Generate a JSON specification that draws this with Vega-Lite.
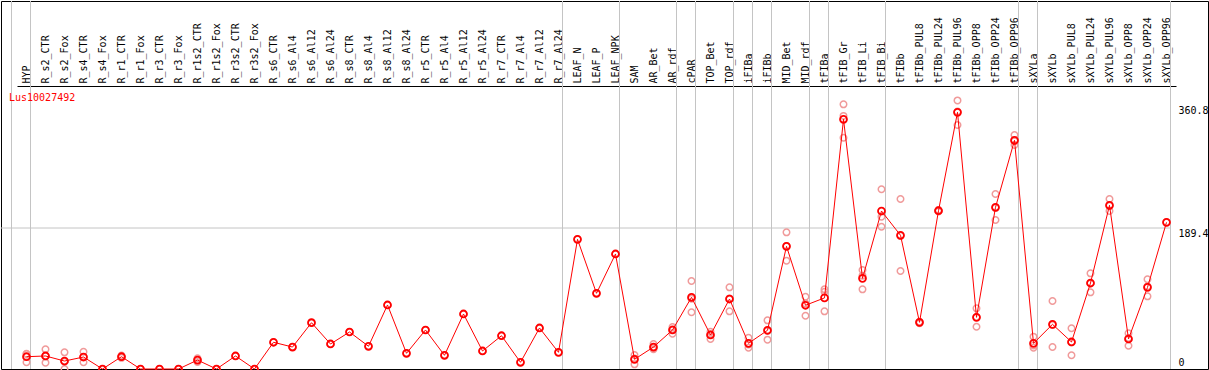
{
  "$schema": "https://vega.github.io/schema/vega-lite/v6.json",
  "autosize": "none",
  "width": 1207,
  "height": 368,
  "padding": {"left": 1, "top": 1, "right": 1, "bottom": 1},
  "background": "white",
  "config": {
    "view": {"stroke": "black", "strokeWidth": 1},
    "axis": {"labelFont": "DejaVu Sans Mono", "labelFontSize": 10, "labelColor": "black"}
  },
  "datasets": {
    "means": [
      {"sample": "HYP", "value": 16.5},
      {"sample": "R_s2_CTR", "value": 17.5},
      {"sample": "R_s2_Fox", "value": 10.7},
      {"sample": "R_s4_CTR", "value": 16.1},
      {"sample": "R_s4_Fox", "value": 0},
      {"sample": "R_r1_CTR", "value": 16.5},
      {"sample": "R_r1_Fox", "value": 0},
      {"sample": "R_r3_CTR", "value": 0},
      {"sample": "R_r3_Fox", "value": 0},
      {"sample": "R_r1s2_CTR", "value": 12},
      {"sample": "R_r1s2_Fox", "value": 0},
      {"sample": "R_r3s2_CTR", "value": 17.5},
      {"sample": "R_r3s2_Fox", "value": 0},
      {"sample": "R_s6_CTR", "value": 35.9},
      {"sample": "R_s6_Al4", "value": 29.5},
      {"sample": "R_s6_Al12", "value": 62.2},
      {"sample": "R_s6_Al24", "value": 33.6},
      {"sample": "R_s8_CTR", "value": 49.7},
      {"sample": "R_s8_Al4", "value": 30.5},
      {"sample": "R_s8_Al12", "value": 86},
      {"sample": "R_s8_Al24", "value": 21.1},
      {"sample": "R_r5_CTR", "value": 52.4},
      {"sample": "R_r5_Al4", "value": 18.4},
      {"sample": "R_r5_Al12", "value": 73.9},
      {"sample": "R_r5_Al24", "value": 24.2},
      {"sample": "R_r7_CTR", "value": 44.7},
      {"sample": "R_r7_Al4", "value": 9},
      {"sample": "R_r7_Al12", "value": 55.1},
      {"sample": "R_r7_Al24", "value": 22.4},
      {"sample": "LEAF_N", "value": 174.2},
      {"sample": "LEAF_P", "value": 101.7},
      {"sample": "LEAF_NPK", "value": 154.5},
      {"sample": "SAM", "value": 13},
      {"sample": "AR_Bet", "value": 29.5},
      {"sample": "AR_rdf", "value": 52.4},
      {"sample": "cPAR", "value": 96.3},
      {"sample": "TOP_Bet", "value": 45.7},
      {"sample": "TOP_rdf", "value": 94},
      {"sample": "iFIBa", "value": 34.5},
      {"sample": "iFIBb", "value": 52},
      {"sample": "MID_Bet", "value": 164.8},
      {"sample": "MID_rdf", "value": 85.6},
      {"sample": "tFIBa", "value": 95.5},
      {"sample": "tFIB_Gr", "value": 335.4},
      {"sample": "tFIB_Li", "value": 121.8},
      {"sample": "tFIB_Bi", "value": 212.2},
      {"sample": "tFIBb", "value": 179.6},
      {"sample": "tFIBb_PUL8", "value": 62.7},
      {"sample": "tFIBb_PUL24", "value": 212.6},
      {"sample": "tFIBb_PUL96", "value": 344.8},
      {"sample": "tFIBb_OPP8", "value": 69.4},
      {"sample": "tFIBb_OPP24", "value": 217.2},
      {"sample": "tFIBb_OPP96", "value": 307.2},
      {"sample": "sXYLa", "value": 34.5},
      {"sample": "sXYLb", "value": 60},
      {"sample": "sXYLb_PUL8", "value": 36.3},
      {"sample": "sXYLb_PUL24", "value": 115.5},
      {"sample": "sXYLb_PUL96", "value": 219.9},
      {"sample": "sXYLb_OPP8", "value": 40.3},
      {"sample": "sXYLb_OPP24", "value": 109.7},
      {"sample": "sXYLb_OPP96", "value": 197}
    ],
    "reps": [
      {"sample": "HYP", "value": 20.1}, {"sample": "HYP", "value": 9}, {"sample": "HYP", "value": 20.4},
      {"sample": "R_s2_CTR", "value": 26.4}, {"sample": "R_s2_CTR", "value": 8.5}, {"sample": "R_s2_CTR", "value": 17.6},
      {"sample": "R_s2_Fox", "value": 22.4}, {"sample": "R_s2_Fox", "value": 0}, {"sample": "R_s2_Fox", "value": 9.7},
      {"sample": "R_s4_CTR", "value": 23.2}, {"sample": "R_s4_CTR", "value": 9}, {"sample": "R_s4_CTR", "value": 16},
      {"sample": "R_s4_Fox", "value": 0},
      {"sample": "R_r1_CTR", "value": 18}, {"sample": "R_r1_CTR", "value": 15}, {"sample": "R_r1_CTR", "value": 16.5},
      {"sample": "R_r1_Fox", "value": 0},
      {"sample": "R_r3_CTR", "value": 0},
      {"sample": "R_r3_Fox", "value": 0},
      {"sample": "R_r1s2_CTR", "value": 14.5}, {"sample": "R_r1s2_CTR", "value": 9.5}, {"sample": "R_r1s2_CTR", "value": 12},
      {"sample": "R_r1s2_Fox", "value": 0},
      {"sample": "R_r3s2_CTR", "value": 17.5},
      {"sample": "R_r3s2_Fox", "value": 0},
      {"sample": "R_s6_CTR", "value": 35.9},
      {"sample": "R_s6_Al4", "value": 29.5},
      {"sample": "R_s6_Al12", "value": 62.2},
      {"sample": "R_s6_Al24", "value": 33.6},
      {"sample": "R_s8_CTR", "value": 49.7},
      {"sample": "R_s8_Al4", "value": 30.5},
      {"sample": "R_s8_Al12", "value": 86},
      {"sample": "R_s8_Al24", "value": 21.1},
      {"sample": "R_r5_CTR", "value": 52.4},
      {"sample": "R_r5_Al4", "value": 18.4},
      {"sample": "R_r5_Al12", "value": 73.9},
      {"sample": "R_r5_Al24", "value": 24.2},
      {"sample": "R_r7_CTR", "value": 44.7},
      {"sample": "R_r7_Al4", "value": 9},
      {"sample": "R_r7_Al12", "value": 55.1},
      {"sample": "R_r7_Al24", "value": 22.4},
      {"sample": "LEAF_N", "value": 174.2},
      {"sample": "LEAF_P", "value": 101.7},
      {"sample": "LEAF_NPK", "value": 154.5},
      {"sample": "SAM", "value": 18.8}, {"sample": "SAM", "value": 6.3}, {"sample": "SAM", "value": 14},
      {"sample": "AR_Bet", "value": 33.6}, {"sample": "AR_Bet", "value": 26.5}, {"sample": "AR_Bet", "value": 28.5},
      {"sample": "AR_rdf", "value": 56.4}, {"sample": "AR_rdf", "value": 47.4}, {"sample": "AR_rdf", "value": 53.4},
      {"sample": "cPAR", "value": 118.2}, {"sample": "cPAR", "value": 76.2}, {"sample": "cPAR", "value": 94.5},
      {"sample": "TOP_Bet", "value": 50.1}, {"sample": "TOP_Bet", "value": 40.3}, {"sample": "TOP_Bet", "value": 46.7},
      {"sample": "TOP_rdf", "value": 109.7}, {"sample": "TOP_rdf", "value": 77.5}, {"sample": "TOP_rdf", "value": 94.8},
      {"sample": "iFIBa", "value": 42}, {"sample": "iFIBa", "value": 28.6}, {"sample": "iFIBa", "value": 32.9},
      {"sample": "iFIBb", "value": 65.4}, {"sample": "iFIBb", "value": 39.4}, {"sample": "iFIBb", "value": 51.2},
      {"sample": "MID_Bet", "value": 183.6}, {"sample": "MID_Bet", "value": 145.5}, {"sample": "MID_Bet", "value": 165.3},
      {"sample": "MID_rdf", "value": 97.1}, {"sample": "MID_rdf", "value": 71.6}, {"sample": "MID_rdf", "value": 88.1},
      {"sample": "tFIBa", "value": 107}, {"sample": "tFIBa", "value": 103.8}, {"sample": "tFIBa", "value": 77.5},
      {"sample": "tFIB_Gr", "value": 355.5}, {"sample": "tFIB_Gr", "value": 310.7}, {"sample": "tFIB_Gr", "value": 340},
      {"sample": "tFIB_Li", "value": 133}, {"sample": "tFIB_Li", "value": 107}, {"sample": "tFIB_Li", "value": 125.4},
      {"sample": "tFIB_Bi", "value": 241.4}, {"sample": "tFIB_Bi", "value": 191.1}, {"sample": "tFIB_Bi", "value": 204.6},
      {"sample": "tFIBb", "value": 228.3}, {"sample": "tFIBb", "value": 131.6}, {"sample": "tFIBb", "value": 178.9},
      {"sample": "tFIBb_PUL8", "value": 63.5}, {"sample": "tFIBb_PUL8", "value": 61.5}, {"sample": "tFIBb_PUL8", "value": 63},
      {"sample": "tFIBb_PUL24", "value": 213.5}, {"sample": "tFIBb_PUL24", "value": 211.5}, {"sample": "tFIBb_PUL24", "value": 212.8},
      {"sample": "tFIBb_PUL96", "value": 360.8}, {"sample": "tFIBb_PUL96", "value": 327.7}, {"sample": "tFIBb_PUL96", "value": 345.9},
      {"sample": "tFIBb_OPP8", "value": 81.5}, {"sample": "tFIBb_OPP8", "value": 56.8}, {"sample": "tFIBb_OPP8", "value": 69.9},
      {"sample": "tFIBb_OPP24", "value": 235}, {"sample": "tFIBb_OPP24", "value": 200.1}, {"sample": "tFIBb_OPP24", "value": 216.5},
      {"sample": "tFIBb_OPP96", "value": 314.3}, {"sample": "tFIBb_OPP96", "value": 300.9}, {"sample": "tFIBb_OPP96", "value": 306.4},
      {"sample": "sXYLa", "value": 43.4}, {"sample": "sXYLa", "value": 28.6}, {"sample": "sXYLa", "value": 31.5},
      {"sample": "sXYLb", "value": 91.3}, {"sample": "sXYLb", "value": 29.5}, {"sample": "sXYLb", "value": 59.2},
      {"sample": "sXYLb_PUL8", "value": 54.7}, {"sample": "sXYLb_PUL8", "value": 18.4}, {"sample": "sXYLb_PUL8", "value": 35.8},
      {"sample": "sXYLb_PUL24", "value": 128.5}, {"sample": "sXYLb_PUL24", "value": 103}, {"sample": "sXYLb_PUL24", "value": 115},
      {"sample": "sXYLb_PUL96", "value": 228.3}, {"sample": "sXYLb_PUL96", "value": 212.2}, {"sample": "sXYLb_PUL96", "value": 219.2},
      {"sample": "sXYLb_OPP8", "value": 48}, {"sample": "sXYLb_OPP8", "value": 31.3}, {"sample": "sXYLb_OPP8", "value": 41.6},
      {"sample": "sXYLb_OPP24", "value": 120.5}, {"sample": "sXYLb_OPP24", "value": 97.6}, {"sample": "sXYLb_OPP24", "value": 111},
      {"sample": "sXYLb_OPP96", "value": 197}
    ],
    "seps": [
      {"sample": "HYP"}, {"sample": "R_r7_Al24"}, {"sample": "LEAF_NPK"}, {"sample": "AR_rdf"},
      {"sample": "cPAR"}, {"sample": "TOP_rdf"}, {"sample": "iFIBa"}, {"sample": "iFIBb"},
      {"sample": "MID_rdf"}, {"sample": "tFIBa"}, {"sample": "tFIB_Bi"}, {"sample": "tFIBb_OPP96"},
      {"sample": "sXYLa"}, {"sample": "sXYLb_OPP96"}
    ],
    "titles": [{"gene": "Lus10027492"}]
  },
  "layer": [
    {
      "data": {"name": "seps"},
      "mark": {"type": "rule", "color": "#c4c4c4", "strokeWidth": 1},
      "encoding": {
        "x": {
          "field": "sample", "type": "nominal", "bandPosition": 0.71,
          "scale": {
            "type": "band", "range": [16, 1175], "paddingInner": 0, "paddingOuter": 0,
            "domain": ["HYP","R_s2_CTR","R_s2_Fox","R_s4_CTR","R_s4_Fox","R_r1_CTR","R_r1_Fox","R_r3_CTR","R_r3_Fox","R_r1s2_CTR","R_r1s2_Fox","R_r3s2_CTR","R_r3s2_Fox","R_s6_CTR","R_s6_Al4","R_s6_Al12","R_s6_Al24","R_s8_CTR","R_s8_Al4","R_s8_Al12","R_s8_Al24","R_r5_CTR","R_r5_Al4","R_r5_Al12","R_r5_Al24","R_r7_CTR","R_r7_Al4","R_r7_Al12","R_r7_Al24","LEAF_N","LEAF_P","LEAF_NPK","SAM","AR_Bet","AR_rdf","cPAR","TOP_Bet","TOP_rdf","iFIBa","iFIBb","MID_Bet","MID_rdf","tFIBa","tFIB_Gr","tFIB_Li","tFIB_Bi","tFIBb","tFIBb_PUL8","tFIBb_PUL24","tFIBb_PUL96","tFIBb_OPP8","tFIBb_OPP24","tFIBb_OPP96","sXYLa","sXYLb","sXYLb_PUL8","sXYLb_PUL24","sXYLb_PUL96","sXYLb_OPP8","sXYLb_OPP24","sXYLb_OPP96"]
          },
          "axis": {
            "orient": "top", "offset": -85, "labelAngle": -90, "labelPadding": 3,
            "ticks": false, "grid": false, "domain": true, "domainColor": "black", "domainWidth": 1,
            "title": null, "labelOverlap": false, "labelLimit": 0
          }
        }
      }
    },
    {
      "data": {"name": "titles"},
      "mark": {"type": "rule", "color": "#c4c4c4", "strokeWidth": 1},
      "encoding": {"x": {"datum": "HYP", "bandPosition": -0.29}}
    },
    {
      "data": {"name": "titles"},
      "mark": {"type": "rule", "color": "#c4c4c4", "strokeWidth": 1},
      "encoding": {
        "y": {"datum": 189.4, "type": "quantitative"},
        "x": {"datum": "HYP", "bandPosition": -0.85},
        "x2": {"datum": "sXYLb_OPP96", "bandPosition": 0.71}
      }
    },
    {
      "data": {"name": "reps"},
      "mark": {"type": "point", "shape": "circle", "filled": false, "color": "#f09a9a", "size": 42, "strokeWidth": 1.5, "opacity": 1},
      "encoding": {
        "x": {"field": "sample", "type": "nominal"},
        "y": {"field": "value", "type": "quantitative"}
      }
    },
    {
      "data": {"name": "means"},
      "mark": {"type": "line", "color": "#ff0000", "strokeWidth": 1},
      "encoding": {
        "x": {"field": "sample", "type": "nominal", "sort": null},
        "y": {
          "field": "value", "type": "quantitative",
          "scale": {"domain": [0, 378.8], "range": [368, 86], "nice": false, "zero": true},
          "axis": {
            "orient": "right", "offset": -38, "values": [0, 189.4, 360.8], "format": ".1~f",
            "grid": false, "ticks": false, "domain": false, "title": null, "labelPadding": 8,
            "labelAlign": "left",
            "labelBaseline": {"condition": {"test": "datum.value == 0", "value": "bottom"}, "value": "top"},
            "labelOffset": {"condition": [{"test": "datum.value == 0", "value": -2}, {"test": "datum.value > 300", "value": 5}], "value": 0}
          }
        }
      }
    },
    {
      "data": {"name": "means"},
      "mark": {"type": "point", "shape": "circle", "filled": false, "color": "#ff0000", "size": 48, "strokeWidth": 1.8, "opacity": 1},
      "encoding": {
        "x": {"field": "sample", "type": "nominal"},
        "y": {"field": "value", "type": "quantitative"}
      }
    },
    {
      "data": {"name": "titles"},
      "mark": {"type": "text", "color": "#ff0000", "font": "DejaVu Sans Mono", "fontSize": 10, "align": "left", "baseline": "top", "dx": -8, "dy": 6},
      "encoding": {
        "x": {"datum": "HYP", "bandPosition": 0},
        "y": {"datum": 378.8, "type": "quantitative"},
        "text": {"field": "gene"}
      }
    }
  ]
}
